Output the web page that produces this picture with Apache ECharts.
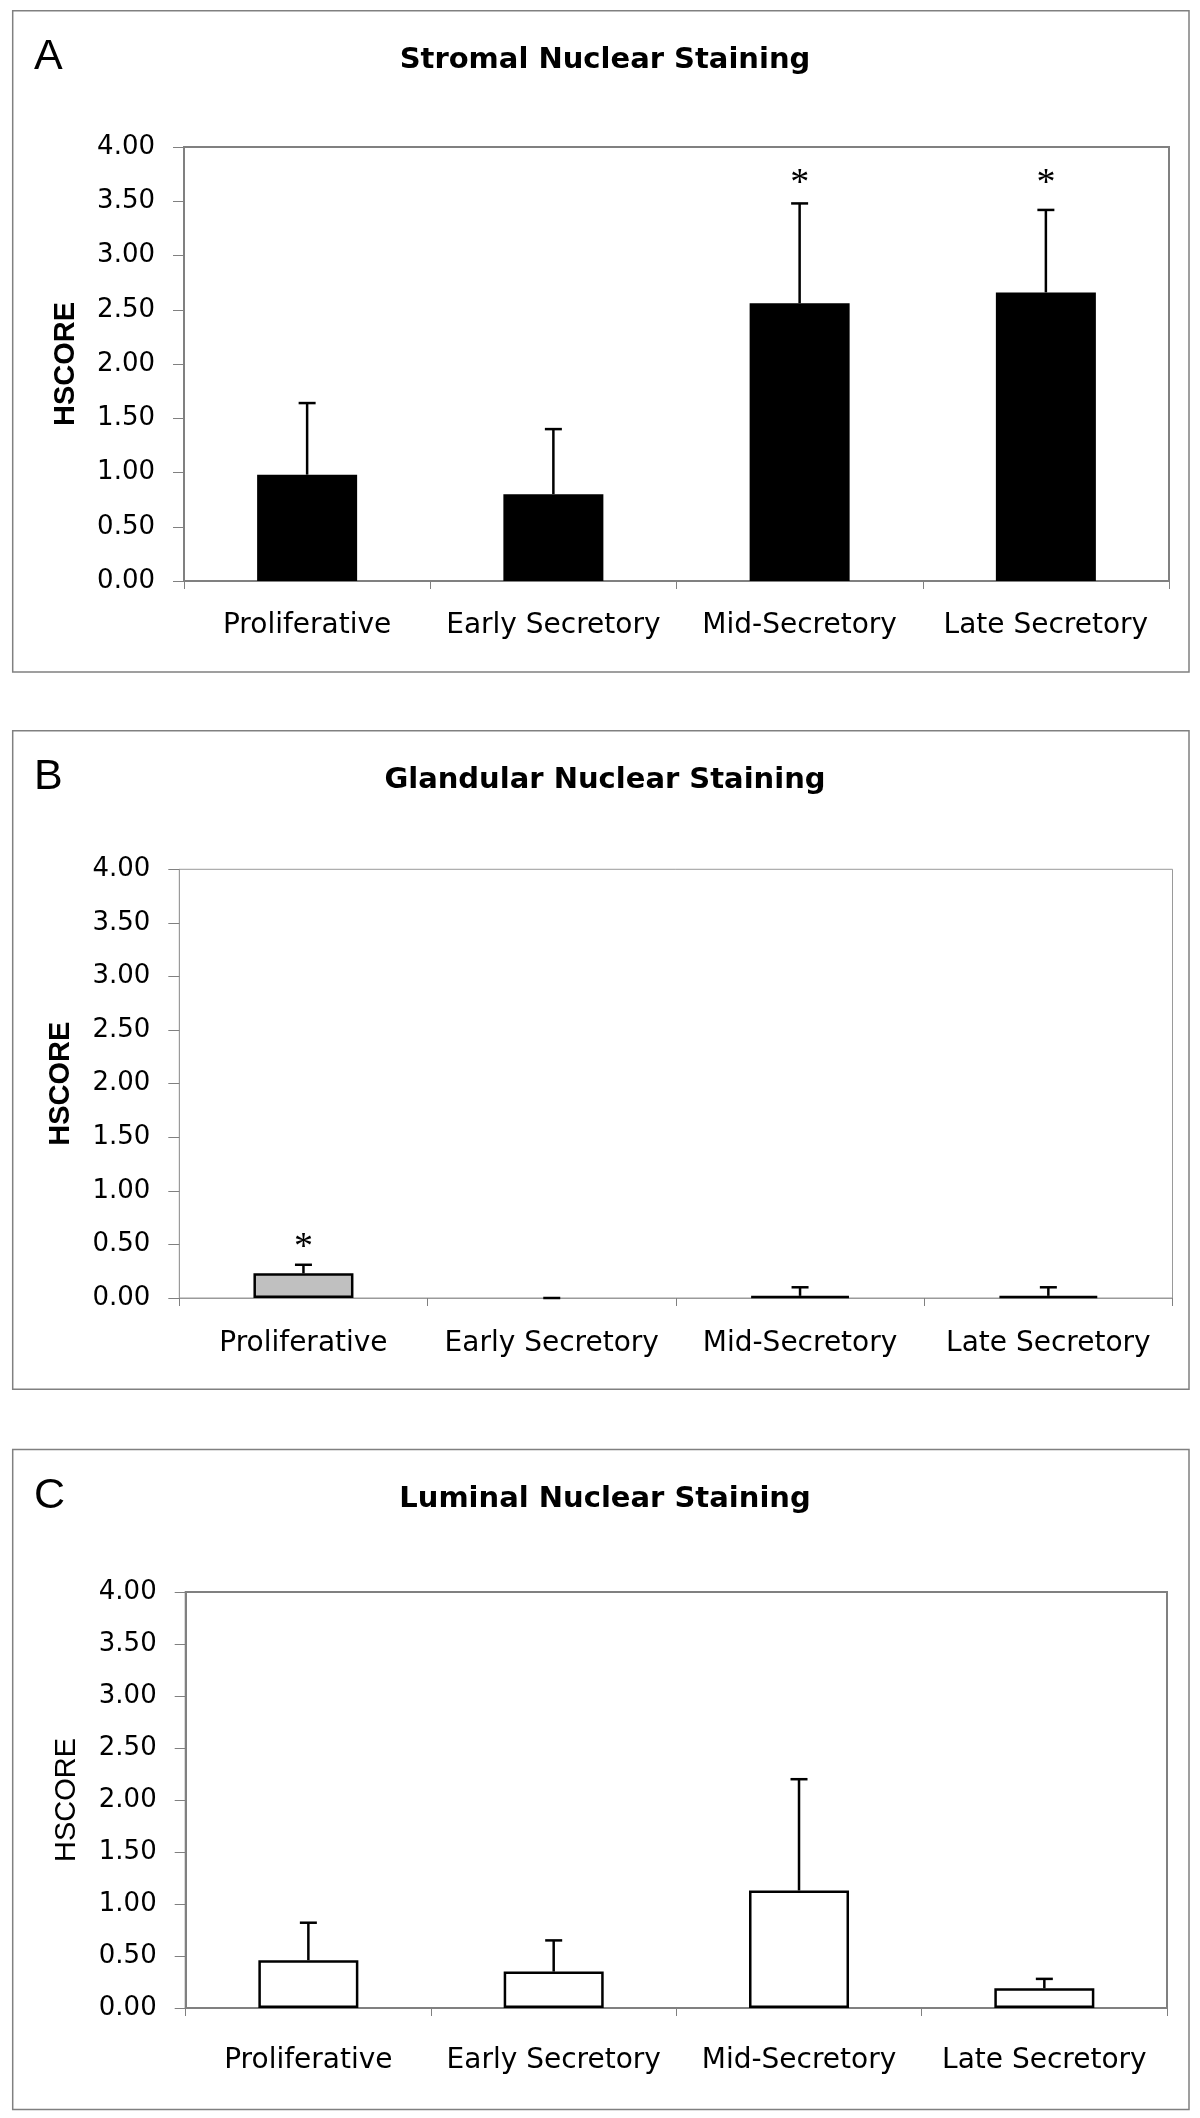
<!DOCTYPE html>
<html><head><meta charset="utf-8">
<script src="https://cdn.jsdelivr.net/npm/echarts@6/dist/echarts.min.js"></script>
<style>html,body{margin:0;padding:0;background:#fff;}#c{width:1200px;height:2118px;}</style>
</head><body><div id="c"></div>
<script>
// ---- data ----
const categories = ['Proliferative', 'Early Secretory', 'Mid-Secretory', 'Late Secretory'];
const yMin = 0, yMax = 4, yStep = 0.5;
const panelTitles = ['Stromal Nuclear Staining', 'Glandular Nuclear Staining', 'Luminal Nuclear Staining'];
const panelLetters = ['A', 'B', 'C'];
const yAxisName = 'HSCORE';

const stromalMean  = [0.98, 0.80, 2.56, 2.66];
const stromalUpper = [1.64, 1.40, 3.48, 3.42];
const stromalStar  = [null, null, 3.72, 3.72];

const glandularMean  = [0.23, 0.00, 0.02, 0.02];
const glandularUpper = [0.31, 0.00, 0.10, 0.10];
const glandularStar  = [0.53, null, null, null];

const luminalMean  = [0.46, 0.35, 1.13, 0.19];
const luminalUpper = [0.82, 0.65, 2.20, 0.28];
const luminalStar  = [null, null, null, null];

// ---- layout / style ----
const panels = [
  {box: [12.7, 10.7, 1176.3, 661.3], grid: {left: 184, right: 31, top: 147, height: 434}, border: 2, borderColor: '#808080',
   mean: stromalMean, upper: stromalUpper, star: stromalStar, fill: ['#000', '#000', '#000', '#000'],
   nameWeight: 'bold', labelMargin: 31},
  {box: [12.7, 730.7, 1176.3, 658.5], grid: {left: 179.3, right: 27.5, top: 869.3, height: 428.7}, border: 1, borderColor: '#9a9a9a',
   mean: glandularMean, upper: glandularUpper, star: glandularStar, fill: ['#c0c0c0', '#c0c0c0', '#000', '#000'],
   nameWeight: 'bold', labelMargin: 32},
  {box: [12.7, 1449.5, 1176.3, 660], grid: {left: 185.7, right: 33, top: 1592, height: 416}, border: 2, borderColor: '#808080',
   mean: luminalMean, upper: luminalUpper, star: luminalStar, fill: ['#fff', '#fff', '#fff', '#fff'],
   nameWeight: 'normal', labelMargin: 39}
];

const FONT = '"DejaVu Sans"';

function errRender(params, api) {
  const x = api.value(0), m = api.value(1), u = api.value(2);
  const p0 = api.coord([x, m]);
  const p1 = api.coord([x, u]);
  const half = 8.5;
  return {type: 'group', children: [
    {type: 'line', shape: {x1: p0[0], y1: p0[1], x2: p1[0], y2: p1[1]}, style: {stroke: '#000', lineWidth: 2.5}},
    {type: 'line', shape: {x1: p1[0] - half, y1: p1[1], x2: p1[0] + half, y2: p1[1]}, style: {stroke: '#000', lineWidth: 2.5}}
  ]};
}
function starRender(params, api) {
  const p = api.coord([api.value(0), api.value(1)]);
  return {type: 'text', style: {text: '*', x: p[0], y: p[1] + 7, align: 'center', verticalAlign: 'middle',
    font: '38px "Liberation Serif"', fill: '#000'}};
}

const option = {
  animation: false,
  backgroundColor: '#fff',
  title: [],
  grid: [], xAxis: [], yAxis: [], series: [],
  graphic: []
};

panels.forEach((p, i) => {
  const top = p.box[1];
  option.graphic.push({type: 'rect', shape: {x: p.box[0], y: p.box[1], width: p.box[2], height: p.box[3]},
    style: {fill: 'none', stroke: '#808080', lineWidth: 1.5}, z: -1});
  option.title.push({text: panelTitles[i], left: 600, top: top + 30, textAlign: 'center',
    textStyle: {fontFamily: FONT, fontWeight: 'bold', fontSize: 29, color: '#000'}});
  option.title.push({text: panelLetters[i], left: 29, top: top + 20,
    textStyle: {fontFamily: '"Liberation Sans"', fontWeight: 'normal', fontSize: 43, color: '#000'}});
  option.grid.push(Object.assign({show: true, borderColor: p.borderColor, borderWidth: p.border, backgroundColor: 'transparent'}, p.grid));
  option.xAxis.push({type: 'category', gridIndex: i, data: categories,
    axisLine: {lineStyle: {color: p.borderColor, width: p.border}},
    axisTick: {show: true, length: 8, lineStyle: {color: '#808080', width: 1}},
    axisLabel: {fontFamily: FONT, fontSize: 28, color: '#000', margin: p.labelMargin, interval: 0},
    splitLine: {show: false}});
  option.yAxis.push({type: 'value', gridIndex: i, min: yMin, max: yMax, interval: yStep,
    name: yAxisName, nameLocation: 'middle', nameGap: 104, nameRotate: 90,
    nameTextStyle: {fontFamily: '"Liberation Sans"', fontWeight: p.nameWeight, fontSize: 29, color: '#000'},
    axisLine: {show: true, lineStyle: {color: p.borderColor, width: p.border}},
    axisTick: {show: true, length: 11, lineStyle: {color: '#808080', width: 1}},
    axisLabel: {fontFamily: FONT, fontSize: 26, color: '#000', margin: 29, formatter: v => v.toFixed(2)},
    splitLine: {show: false}});
  option.series.push({type: 'bar', xAxisIndex: i, yAxisIndex: i, barWidth: 100,
    data: p.mean.map((v, k) => ({value: v, itemStyle: {color: p.fill[k], borderColor: '#000', borderWidth: v > 0 ? 2.5 : 0}})),
    silent: true});
  option.series.push({type: 'custom', xAxisIndex: i, yAxisIndex: i, renderItem: errRender,
    data: p.mean.map((v, k) => [k, v, p.upper[k]]), silent: true, z: 3});
  const stars = [];
  p.star.forEach((s, k) => { if (s !== null) stars.push([k, s]); });
  if (stars.length) option.series.push({type: 'custom', xAxisIndex: i, yAxisIndex: i, renderItem: starRender,
    data: stars, silent: true, z: 4});
});

const chart = echarts.init(document.getElementById('c'), null, {renderer: 'canvas'});
chart.setOption(option);
</script></body></html>
